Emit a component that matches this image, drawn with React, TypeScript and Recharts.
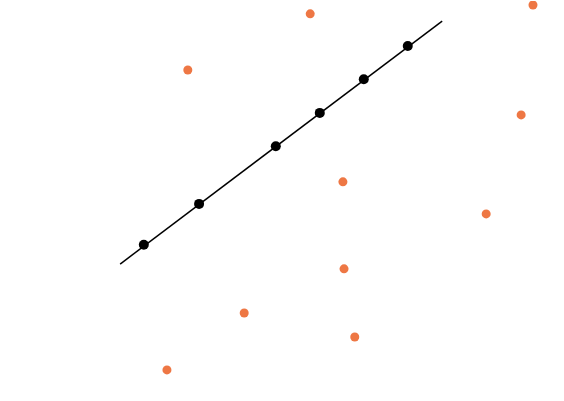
import { ComposedChart, Scatter, Line, XAxis, YAxis } from 'recharts';

// observed points (x, y)
const obsX = [5.5, 9.45, 3.33, 9.24, 6.08, 8.62, 6.1, 4.33, 6.29, 2.96];
const obsY = [9.68, 9.9, 8.28, 7.16, 5.49, 4.69, 3.32, 2.22, 1.62, 0.8];

// points on the fitted line
const fitX = [2.55, 3.53, 4.89, 5.67, 6.45, 7.23];
const fitY = [3.92, 4.94, 6.38, 7.21, 8.05, 8.88];

// ends of the fitted line
const lineX = [2.13, 7.84];
const lineY = [3.44, 9.5];

const observed = obsX.map((x, i) => ({ x, y: obsY[i] }));
const fitted = fitX.map((x, i) => ({ x, y: fitY[i] }));
const fitLine = lineX.map((x, i) => ({ x, y: lineY[i] }));

const dot = (r: number, fill: string) => (props: any) =>
  <circle cx={props.cx} cy={props.cy} r={r} fill={fill} />;

export default function App() {
  return (
    <div style={{ position: 'absolute', left: 0, top: 1, width: 564, height: 401, background: '#fff' }}>
      <ComposedChart width={564} height={401} margin={{ top: 0, right: 0, bottom: 0, left: 0 }}>
        <XAxis type="number" dataKey="x" domain={[0, 10]} hide allowDataOverflow />
        <YAxis type="number" dataKey="y" domain={[0, 10]} hide allowDataOverflow />
        <Line
          data={fitLine}
          dataKey="y"
          type="linear"
          stroke="#000"
          strokeWidth={1.5}
          dot={false}
          activeDot={false}
          isAnimationActive={false}
        />
        <Scatter data={observed} shape={dot(4.5, '#ee7744')} isAnimationActive={false} />
        <Scatter data={fitted} shape={dot(5, '#000')} isAnimationActive={false} />
      </ComposedChart>
    </div>
  );
}
